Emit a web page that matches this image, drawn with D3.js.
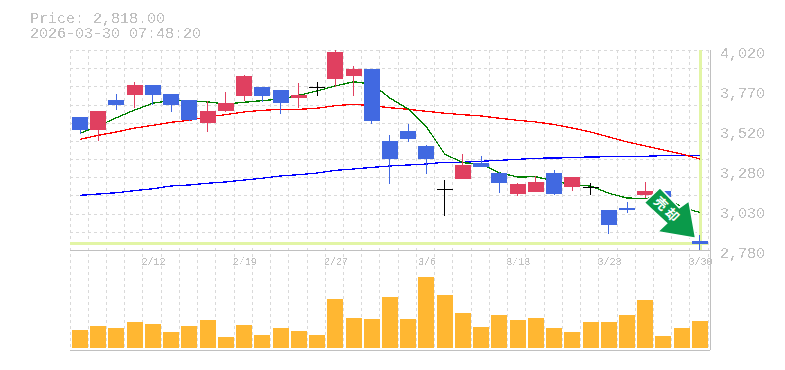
<!DOCTYPE html>
<html>
<head>
<meta charset="utf-8">
<script src="https://cdn.jsdelivr.net/npm/d3@7/dist/d3.min.js"></script>
<style>
html, body { margin: 0; padding: 0; background: #fff; }
svg { display: block; }
text { font-family: "Liberation Mono", "DejaVu Sans Mono", monospace; }
</style>
</head>
<body>
<svg id="chart" width="785" height="370"></svg>
<script>
let titleLines = ["Price: 2,818.00", "2026-03-30 07:48:20"]
let lastPrice = 2818
let signalText = "売却"

let opens = [3605,3524,3710,3741,3803,3747,3710,3567,3642,3735,3791,3772,3722,3789,3840,3859,3902,3456,3518,3425,3156,3220,3319,3257,3127,3140,3257,3171,3169,3028,3040,3121,3146,3016,2833]
let closes = [3524,3642,3679,3803,3741,3679,3586,3642,3691,3859,3735,3691,3741,3789,4008,3902,3580,3344,3468,3344,3156,3307,3295,3195,3189,3202,3127,3233,3169,2935,3028,3146,3109,2954,2818]
let highs = [3605,3642,3747,3821,3803,3747,3710,3704,3760,3865,3791,3772,3815,3822,4020,3921,3902,3493,3561,3431,3214,3375,3363,3264,3195,3239,3276,3233,3195,3028,3078,3202,3146,3016,2873]
let lows = [3501,3458,3648,3660,3679,3636,3580,3512,3636,3704,3700,3623,3660,3735,3791,3735,3561,3189,3450,3251,2991,3220,3295,3133,3115,3140,3121,3146,3121,2879,3009,3102,3102,2954,2780]

let ma5 = [3504,3549,3600,3648,3690,3708,3706,3698,3685,3696,3706,3716,3739,3766,3797,3823,3809,3722,3654,3544,3375,3321,3313,3259,3233,3234,3208,3183,3177,3132,3102,3100,3109,3047,3012]
let ma25 = [3466,3491,3512,3536,3553,3572,3584,3605,3619,3636,3646,3652,3652,3659,3675,3683,3675,3662,3652,3640,3628,3619,3611,3597,3584,3574,3558,3536,3512,3481,3450,3425,3400,3375,3344]
let ma75 = [3119,3127,3135,3148,3160,3177,3183,3194,3202,3214,3225,3239,3247,3257,3274,3282,3292,3301,3307,3313,3324,3324,3330,3336,3342,3349,3350,3353,3357,3358,3360,3361,3365,3367,3367]

let volumes = [18,22,20,26,24,16,22,28,11,23,13,20,17,13,49,30,29,51,29,71,53,35,21,33,28,30,20,16,26,26,33,48,12,20,27]

let priceTicks = [4020,3772,3524,3276,3028,2780]
let dateTicks = [4,9,14,19,24,29,34]
let dateLabels = ["2/12","2/19","2/27","3/6","3/13","3/23","3/30"]

let leftX = 70, rightX = 710, topY = 50, midY = 250, botY = 350
let n = opens.length

const svg = d3.select("#chart")

// aliased text like the original image
const filter = svg.append("defs").append("filter").attr("id", "hard")
    .attr("x", "-5%").attr("y", "-5%").attr("width", "110%").attr("height", "110%")
filter.append("feComponentTransfer").append("feFuncA")
    .attr("type", "discrete").attr("tableValues", "0 0 1 1")

let x = d3.scaleBand().domain(d3.range(n)).range([leftX, 708.2])
let y = d3.scaleLinear().domain([2780, 4020]).range([midY, topY])
let v = d3.scaleLinear().domain([0, 100]).range([botY - 2, botY - 102])
let cx = i => x(i) + 10

// grid
const grid = svg.append("g").attr("shape-rendering", "crispEdges")
    .attr("stroke", "#d9d9d9").attr("stroke-dasharray", "3,3")
grid.selectAll(".v").data(d3.range(n + 1)).join("line").attr("class", "v")
    .attr("x1", d => Math.floor(leftX + d * x.step())).attr("x2", d => Math.floor(leftX + d * x.step()))
    .attr("y1", topY).attr("y2", botY)
grid.selectAll(".h").data(d3.range(11)).join("line").attr("class", "h")
    .attr("x1", leftX).attr("x2", rightX)
    .attr("y1", d => Math.round(topY + d * (midY - topY) / 11))
    .attr("y2", d => Math.round(topY + d * (midY - topY) / 11))

// frame
const frame = svg.append("g").attr("shape-rendering", "crispEdges").attr("stroke", "#c0c0c0")
frame.append("line").attr("x1", leftX).attr("x2", rightX).attr("y1", midY).attr("y2", midY)
frame.append("line").attr("x1", leftX).attr("x2", rightX).attr("y1", botY).attr("y2", botY)
frame.append("line").attr("x1", rightX).attr("x2", rightX).attr("y1", topY).attr("y2", botY)

// current price / current date highlight
const hl = svg.append("g").attr("shape-rendering", "crispEdges").attr("fill", "#e2f5a5")
hl.append("rect").attr("x", leftX).attr("width", rightX - 2 - leftX)
    .attr("y", y(lastPrice) - 1.5).attr("height", 3)
hl.append("rect").attr("x", cx(n - 1) - 1).attr("width", 3)
    .attr("y", topY).attr("height", midY - topY)

// volume
svg.append("g").attr("shape-rendering", "crispEdges").attr("fill", "#ffb732")
    .selectAll("rect").data(volumes).join("rect")
    .attr("x", (d, i) => x(i) + 2).attr("width", 16)
    .attr("y", d => v(d)).attr("height", d => v(0) - v(d))

// moving averages
let maLine = d3.line().x((d, i) => cx(i)).y(d => y(d))
let maSeries = [[ma75, "#0000ff"], [ma25, "#ff0000"], [ma5, "#008000"]]
svg.append("g").selectAll("path").data(maSeries).join("path")
    .attr("d", d => maLine(d[0]))
    .attr("fill", "none").attr("stroke", d => d[1]).attr("stroke-width", 1.3)
    .attr("shape-rendering", "crispEdges")

// candles
let candleColor = i => opens[i] === closes[i] ? "#000" : (closes[i] > opens[i] ? "#e04060" : "#4169e1")
const candles = svg.append("g").attr("shape-rendering", "crispEdges")
    .selectAll("g").data(d3.range(n)).join("g").attr("fill", candleColor)
candles.append("rect")
    .attr("x", i => Math.floor(cx(i))).attr("width", 1)
    .attr("y", i => y(highs[i])).attr("height", i => y(lows[i]) - y(highs[i]))
candles.append("rect")
    .attr("x", i => x(i) + 2).attr("width", 16)
    .attr("y", i => y(Math.max(opens[i], closes[i])))
    .attr("height", i => Math.max(1, Math.abs(y(opens[i]) - y(closes[i]))))

// signal arrow, hung off the last candle
let tipX = cx(n - 1) - 4.3, tipY = y(lastPrice) - 5.6
let arrowShape = [[-35.7,-50.6],[-51.4,-35.6],[-29,-15],[-38,-6.6],[0,0],[-6.7,-37.3],[-16.4,-30.6]]
const arrow = svg.append("g").attr("transform", `translate(${tipX},${tipY})`)
arrow.append("polygon")
    .attr("points", arrowShape.map(p => p.join(",")).join(" "))
    .attr("fill", "#0a9a4a").attr("stroke", "#fff").attr("stroke-width", 1.5)
arrow.append("text")
    .attr("transform", "translate(-28,-28) rotate(45)")
    .attr("text-anchor", "middle").attr("dy", "0.36em")
    .attr("fill", "#fff").attr("font-size", 13).attr("font-weight", "bold")
    .attr("letter-spacing", 3)
    .style("font-family", '"Noto Sans CJK JP"')
    .text(signalText)

// axes
const yAxis = svg.append("g").attr("transform", `translate(${rightX},0)`)
    .call(d3.axisRight(y).tickValues(priceTicks).tickSize(0).tickPadding(10)
        .tickFormat(d => d3.format(",")(Math.round(d / 10) * 10)))
yAxis.select(".domain").remove()
yAxis.selectAll("text").attr("fill", "#c0c0c0").attr("font-size", 15)
    .attr("dy", "0.72em").attr("y", -3)
    .style("font-family", '"Liberation Mono"').attr("filter", "url(#hard)")

const xAxis = svg.append("g").attr("transform", `translate(1.5,${midY})`)
    .call(d3.axisBottom(x).tickValues(dateTicks).tickSize(0).tickPadding(8)
        .tickFormat((d, i) => dateLabels[i]))
xAxis.select(".domain").remove()
xAxis.selectAll("text").attr("fill", "#c0c0c0").attr("font-size", 10)
    .style("font-family", '"Liberation Mono"').attr("filter", "url(#hard)")

// title
svg.append("g").selectAll("text").data(titleLines).join("text")
    .attr("x", 30).attr("y", (d, i) => 23 + i * 15)
    .attr("fill", "#c0c0c0").attr("font-size", 15).attr("filter", "url(#hard)")
    .text(d => d)
</script>
</body>
</html>
